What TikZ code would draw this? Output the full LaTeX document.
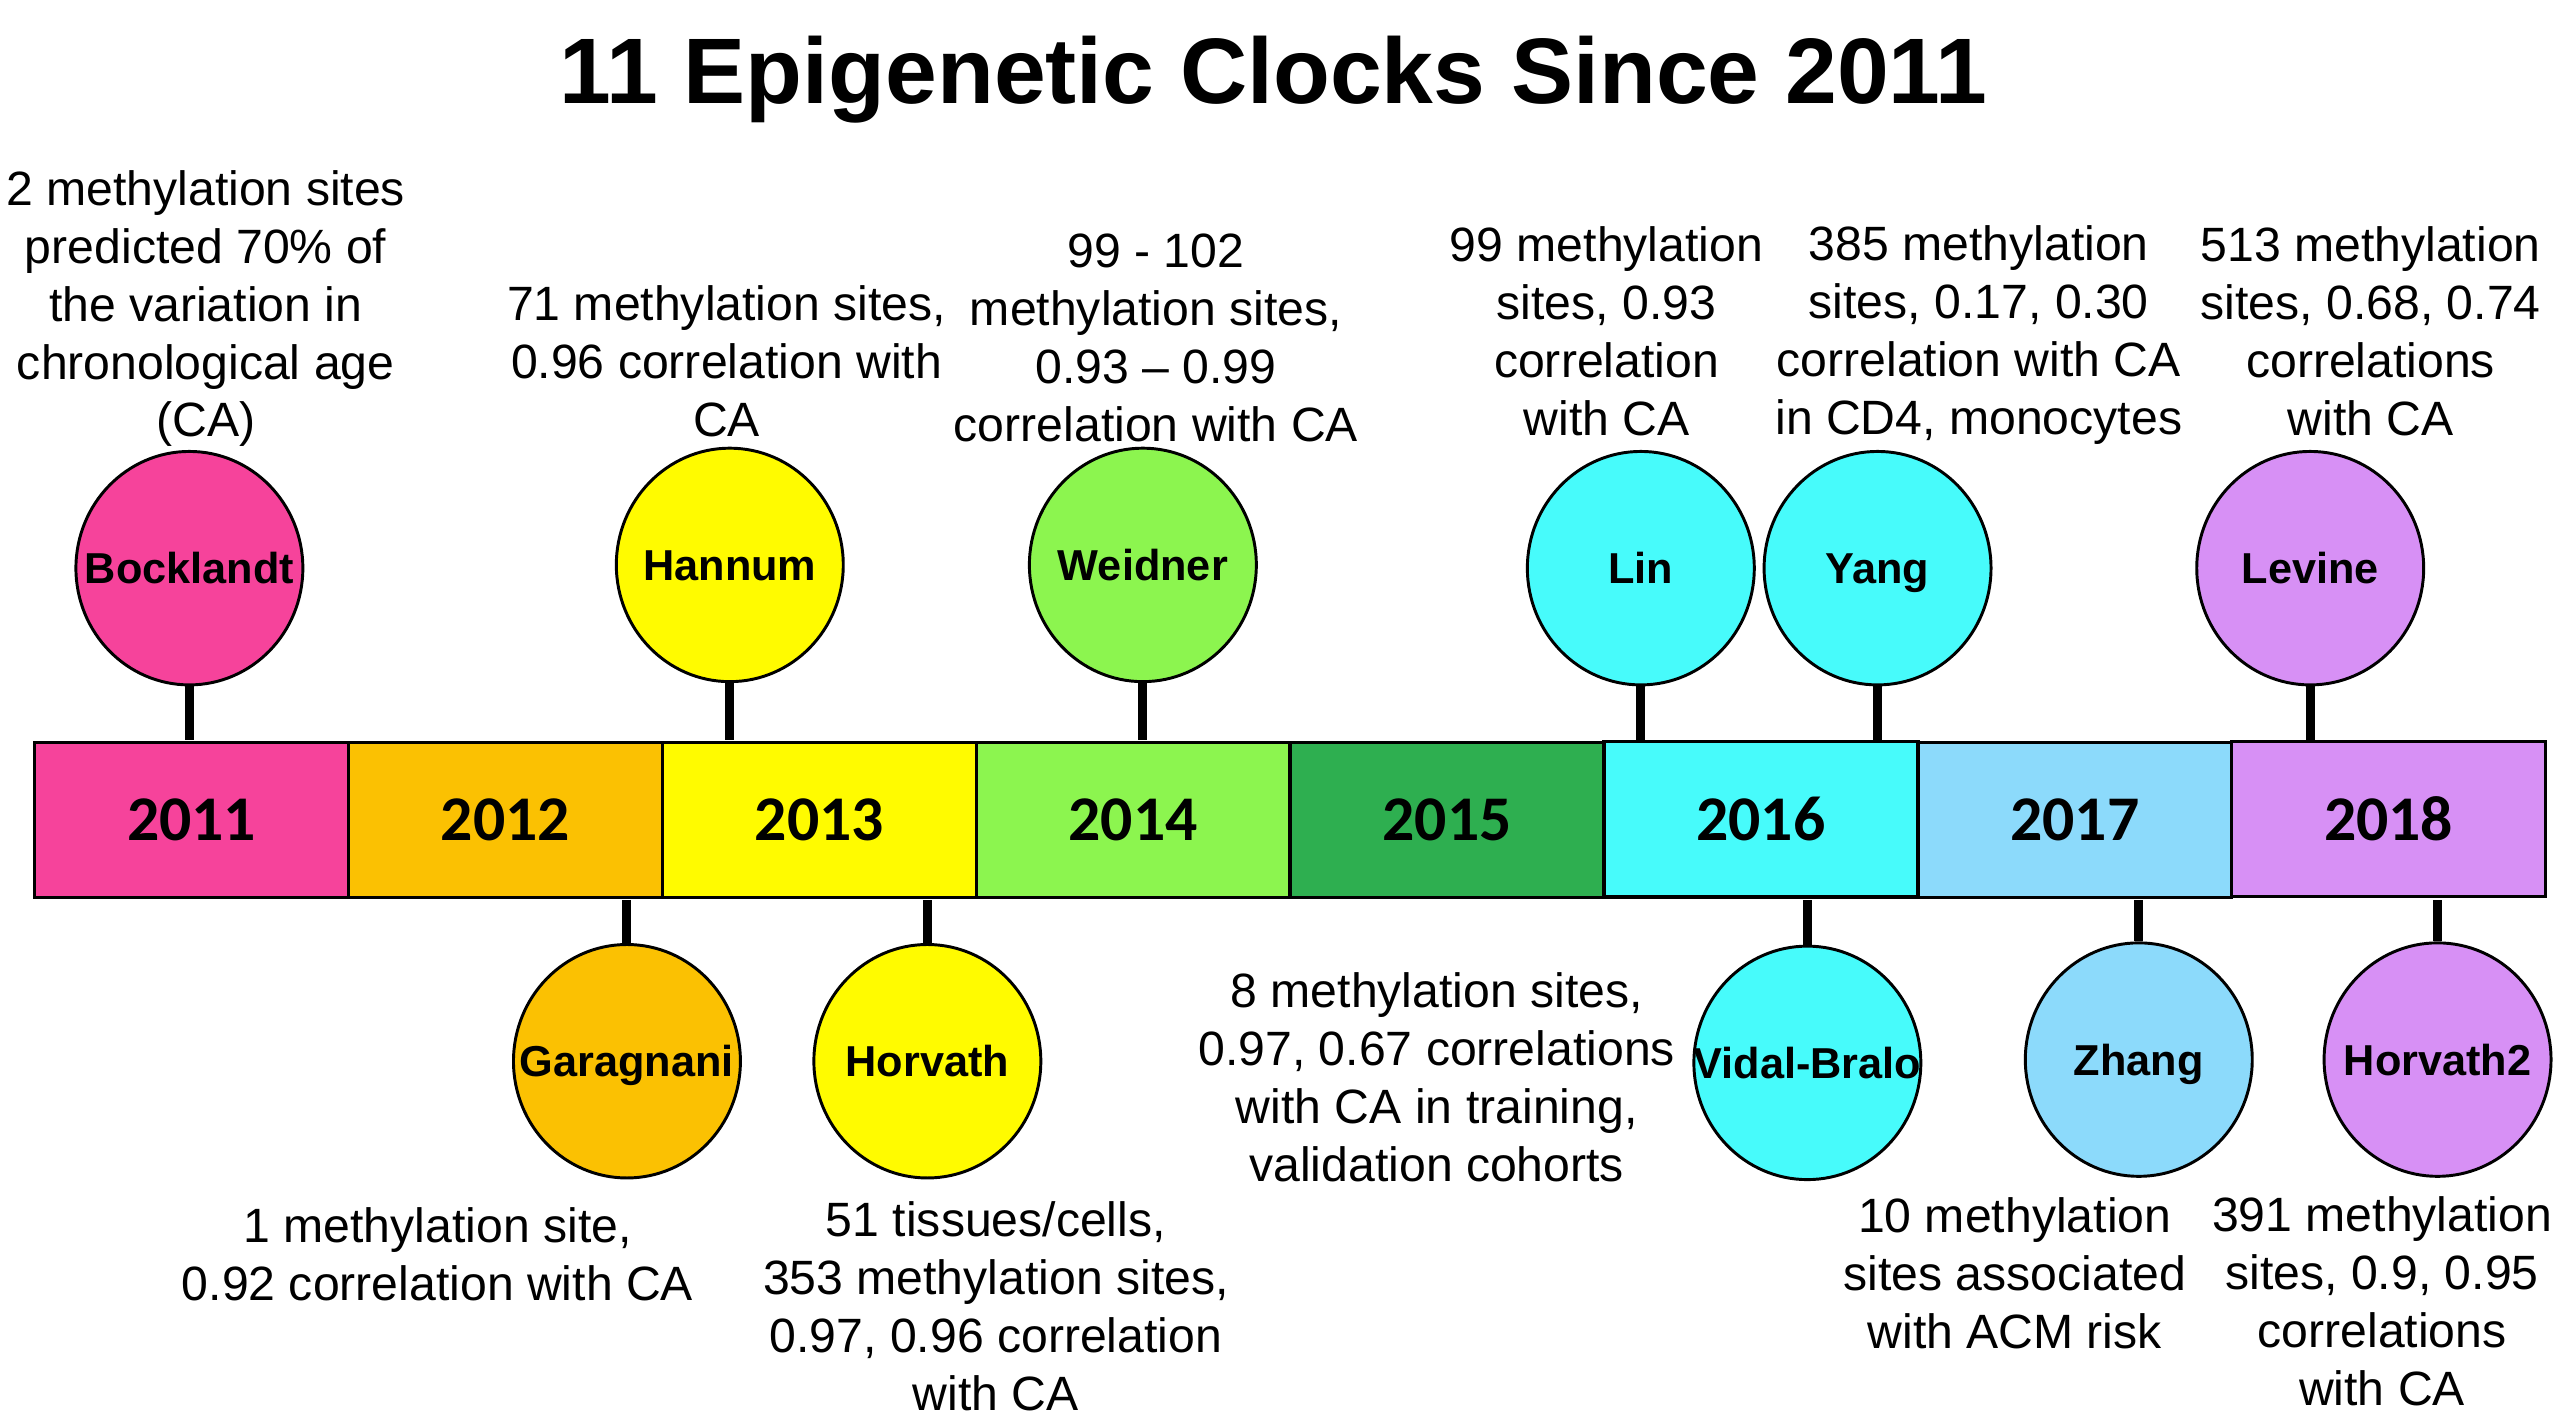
\documentclass[tikz,border=0pt]{standalone}
\usepackage{fontspec}
\setmainfont{Liberation Sans}
\newfontfamily\yearfont{Carlito}
\usetikzlibrary{matrix,positioning,shapes.geometric}
\definecolor{c2011}{HTML}{F6439B}
\definecolor{c2012}{HTML}{FBC102}
\definecolor{c2013}{HTML}{FFFB00}
\definecolor{c2014}{HTML}{8CF54F}
\definecolor{c2015}{HTML}{2EAF50}
\definecolor{c2016}{HTML}{47FBFB}
\definecolor{c2017}{HTML}{8CDAFB}
\definecolor{c2018}{HTML}{D790F5}
\newcommand\clockname[1]{\makebox[0pt]{#1}}
\tikzset{
  clock/.style={draw, ellipse, line width=1.8pt, minimum width=139pt,
    minimum height=143pt, inner sep=0, text height=19pt, text depth=0pt,
    font=\fontsize{26.5}{30}\selectfont\bfseries},
  info/.style={align=center, inner sep=0,
    font=\fontsize{29.5}{35.5}\selectfont},
  stem/.style={line width=5.5pt}
}
\begin{document}
\begin{tikzpicture}[x=1pt, y=-1pt]
  \useasboundingbox (0,0) rectangle (1568,873);
  \node (title) at (780,49) {\fontsize{57}{60}\selectfont\bfseries 11 Epigenetic Clocks Since 2011};
  \matrix (bar) [matrix of nodes, anchor=north west, inner sep=0,
    nodes={draw, line width=2pt, minimum width=192.25pt, minimum height=95pt,
      inner sep=0, font=\yearfont\fontsize{39}{44}\selectfont\bfseries},
    column sep=-2pt] at (20,453) {
    |[fill=c2011]| 2011 & |[fill=c2012]| 2012 & |[fill=c2013]| 2013 & |[fill=c2014]| 2014 &
    |[fill=c2015]| 2015 & |[fill=c2016]| 2016 & |[fill=c2017]| 2017 & |[fill=c2018]| 2018 \\
  };
  \node[clock, fill=c2011] (bock) at (116,348) {\clockname{Bocklandt}};
  \node[clock, fill=c2013] (hann) at (447,346) {\clockname{Hannum}};
  \node[clock, fill=c2014] (weid) at (700,346) {\clockname{Weidner}};
  \node[clock, fill=c2016] (lin) at (1005,348) {\clockname{Lin}};
  \node[clock, fill=c2016] (yang) at (1150,348) {\clockname{Yang}};
  \node[clock, fill=c2018] (levi) at (1415,348) {\clockname{Levine}};
  \node[clock, fill=c2012] (gara) at (384,650) {\clockname{Garagnani}};
  \node[clock, fill=c2013] (horv) at (568,650) {\clockname{Horvath}};
  \node[clock, fill=c2016] (vida) at (1107,651) {\clockname{Vidal-Bralo}};
  \node[clock, fill=c2017] (zhan) at (1310,649) {\clockname{Zhang}};
  \node[clock, fill=c2018] (hor2) at (1493,649) {\clockname{Horvath2}};
  \foreach \c in {bock,hann,weid,lin,yang,levi}
    \draw[stem] (\c.south) -- (\c.south |- bar.north);
  \foreach \c in {gara,horv,vida,zhan,hor2}
    \draw[stem] (\c.north) -- (\c.north |- bar.south);
  \node[info] (bockinfo) at (126,189) {2 methylation sites\\predicted 70\% of\\the variation in\\chronological age\\(CA)};
  \node[info] (hanninfo) at (445,221) {71 methylation sites,\\0.96 correlation with\\CA};
  \node[info] (weidinfo) at (708,207) {99 - 102\\methylation sites,\\0.93 – 0.99\\correlation with CA};
  \node[info] (lininfo) at (984,203) {99 methylation\\sites, 0.93\\correlation\\with CA};
  \node[info] (yanginfo) at (1212,205) {385 methylation\\sites, 0.17, 0.30\\correlation with CA\\in CD4, monocytes};
  \node[info] (leviinfo) at (1452,203) {513 methylation\\sites, 0.68, 0.74\\correlations\\with CA};
  \node[info] (garainfo) at (268,768) {1 methylation site,\\0.92 correlation with CA};
  \node[info] (horvinfo) at (610,800) {51 tissues/cells,\\353 methylation sites,\\0.97, 0.96 correlation\\with CA};
  \node[info] (vidainfo) at (880,660) {8 methylation sites,\\0.97, 0.67 correlations\\with CA in training,\\validation cohorts};
  \node[info] (zhaninfo) at (1234,780) {10 methylation\\sites associated\\with ACM risk};
  \node[info] (hor2info) at (1459,797) {391 methylation\\sites, 0.9, 0.95\\correlations\\with CA};
\end{tikzpicture}
\end{document}
